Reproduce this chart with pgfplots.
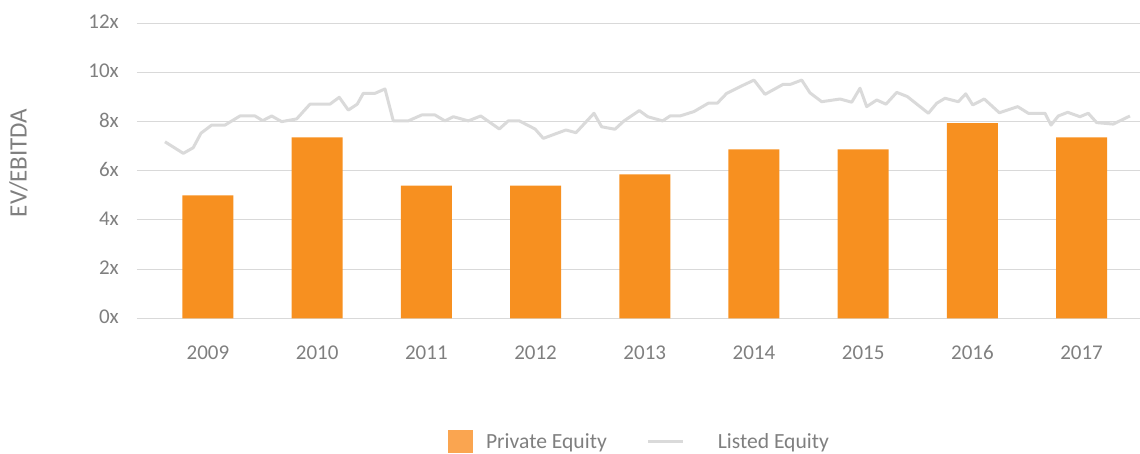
\documentclass[border=0pt]{standalone}
\usepackage{pgfplots}
\pgfplotsset{compat=1.18}
\usepackage{fontspec}
\setmainfont{Carlito}
\definecolor{txtgray}{HTML}{7F7F7F}
\definecolor{gridgray}{HTML}{D9D9D9}
\definecolor{linegray}{HTML}{DADADA}
\definecolor{barorange}{HTML}{F79020}
\definecolor{legorange}{HTML}{FAA550}
\begin{document}
\begin{tikzpicture}
\path[use as bounding box] (0,0) rectangle (1140pt,454pt);
\begin{axis}[
  at={(137pt,135.7pt)}, anchor=south west,
  scale only axis, width=1003pt, height=295pt,
  xmin=2008.350, xmax=2017.535,
  ymin=0, ymax=12,
  xtick={2009,2010,2011,2012,2013,2014,2015,2016,2017},
  xticklabels={2009,2010,2011,2012,2013,2014,2015,2016,2017},
  ytick={0,2,4,6,8,10,12},
  yticklabels={0x,2x,4x,6x,8x,10x,12x},
  major tick length=0pt,
  axis line style={draw=none},
  ymajorgrids, xmajorgrids=false,
  major grid style={gridgray, line width=1pt},
  tick label style={font=\fontsize{21}{25}\selectfont, text=txtgray},
  xticklabel style={inner sep=0pt, anchor=north, yshift=-27pt},
  yticklabel style={inner sep=0pt, anchor=east, xshift=-18pt, yshift=1.5pt},
  ylabel={EV/EBITDA},
  every axis y label/.style={at={(rel axis cs:-0.1181,0.527)}, rotate=90, anchor=center, font=\fontsize{25}{30}\selectfont, text=txtgray},
  legend columns=2,
  legend style={draw=none, fill=none, inner sep=0pt, outer sep=0pt,
    at={(rel axis cs:0.3101,-0.4176)}, anchor=west,
    font=\fontsize{21.6}{26}\selectfont, text=txtgray,
    column sep=0pt, nodes={inner sep=0pt}},
  legend cell align=left,
  clip=false,
]
\addplot[ybar, bar width=51pt, fill=barorange, draw=none,
  legend image code/.code={\fill[legorange] (0pt,-11.5pt) rectangle (25pt,11.5pt); \path (38pt,0pt);}]
coordinates {
(2009,5.00) (2010,7.36) (2011,5.40) (2012,5.40) (2013,5.85)
(2014,6.87) (2015,6.87) (2016,7.94) (2017,7.36)
};
\addlegendentry{Private Equity}
\addplot[sharp plot, no markers, color=linegray, line width=3pt, line join=round,
  legend image code/.code={\path (-40pt,0pt); \draw[linegray, line width=3pt] (0pt,0pt) -- (35pt,0pt); \path (68pt,0pt);}]
coordinates {
(2008.606,7.18) (2008.774,6.71) (2008.865,6.94) (2008.936,7.53) (2009.034,7.86)
(2009.156,7.86) (2009.293,8.23) (2009.431,8.23) (2009.501,8.04) (2009.583,8.23)
(2009.675,8.00) (2009.812,8.11) (2009.934,8.71) (2010.117,8.71) (2010.202,8.99)
(2010.285,8.47) (2010.367,8.71) (2010.422,9.15) (2010.529,9.15) (2010.621,9.33)
(2010.697,8.03) (2010.834,8.03) (2010.957,8.27) (2011.079,8.27) (2011.170,8.03)
(2011.247,8.20) (2011.384,8.03) (2011.498,8.23) (2011.668,7.70) (2011.750,8.03)
(2011.851,8.03) (2011.995,7.70) (2012.071,7.32) (2012.278,7.66) (2012.370,7.55)
(2012.535,8.34) (2012.605,7.79) (2012.727,7.69) (2012.810,8.03) (2012.950,8.45)
(2013.027,8.20) (2013.164,8.03) (2013.231,8.23) (2013.322,8.23) (2013.451,8.41)
(2013.582,8.75) (2013.664,8.75) (2013.750,9.15) (2013.872,9.42) (2014.000,9.69)
(2014.101,9.11) (2014.268,9.52) (2014.336,9.52) (2014.437,9.69) (2014.513,9.17)
(2014.620,8.81) (2014.788,8.92) (2014.895,8.79) (2014.971,9.36) (2015.032,8.61)
(2015.124,8.88) (2015.209,8.71) (2015.307,9.19) (2015.404,9.02) (2015.597,8.34)
(2015.674,8.75) (2015.749,8.95) (2015.871,8.81) (2015.939,9.13) (2016.003,8.68)
(2016.109,8.92) (2016.247,8.36) (2016.415,8.61) (2016.512,8.34) (2016.665,8.34)
(2016.720,7.86) (2016.787,8.23) (2016.873,8.38) (2016.985,8.20) (2017.061,8.34)
(2017.138,7.96) (2017.290,7.90) (2017.443,8.23)
};
\addlegendentry{Listed Equity}
\end{axis}
\end{tikzpicture}
\end{document}
